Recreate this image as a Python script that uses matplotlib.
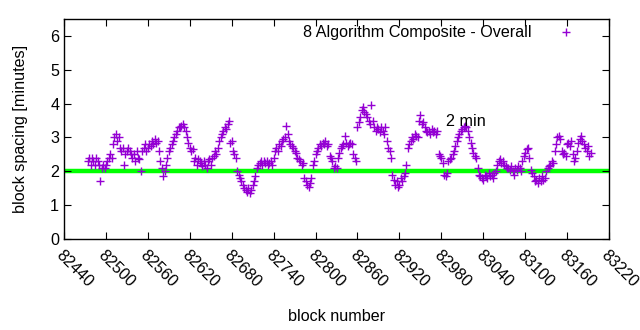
import numpy as np
import matplotlib
matplotlib.use("Agg")
import matplotlib.pyplot as plt

plt.rcParams['font.family'] = ['Liberation Sans', 'DejaVu Sans']

# block spacing in minutes, one value every 2 blocks starting at 82474
first_block = 82474
spacing = [
    2.3, 2.4, 2.2, 2.4, 2.3, 2.2, 2.4, 2.3, 2.2,
    1.7, 2.1, 2.2, 2.1, 2.2,
    2.3, 2.4, 2.5, 2.4,
    2.8, 3.0, 3.1, 2.9, 3.0,
    2.7, 2.6, 2.7, 2.2, 2.5,
    2.6, 2.7, 2.6, 2.5, 2.4,
    2.5, 2.3, 2.6, 2.4, 2.35,
    2.0, 2.6, 2.7, 2.8,
    2.6, 2.7, 2.8, 2.75, 2.9, 2.8, 2.95, 2.85, 2.9, 2.6,
    2.3, 2.1, 1.85, 2.0, 2.2, 2.4,
    2.6, 2.7, 2.8, 2.9, 3.0, 3.1, 3.2, 3.3,
    3.3, 3.35, 3.4, 3.3, 3.2, 3.0,
    2.85, 2.7, 2.6, 2.65,
    2.3, 2.4, 2.2, 2.35, 2.3, 2.25, 2.15, 2.3, 2.2, 2.1, 2.3, 2.35, 2.2, 2.4, 2.45,
    2.6, 2.5, 2.7, 2.9, 3.0,
    3.1, 3.2, 3.3, 3.25, 3.4, 3.5,
    2.85, 2.9, 2.6, 2.5,
    2.4, 2.0, 1.9, 1.8, 1.7,
    1.6, 1.5, 1.45, 1.4, 1.5, 1.35, 1.45, 1.6, 1.7,
    1.85, 2.1,
    2.2, 2.25, 2.3, 2.2, 2.3, 2.25, 2.3, 2.2, 2.25, 2.3, 2.2,
    2.4, 2.6,
    2.7, 2.6, 2.8, 2.75, 2.9,
    2.95, 3.0, 3.35, 3.1, 2.9,
    2.8, 2.75, 2.7, 2.6, 2.55,
    2.4, 2.35, 2.3, 2.2, 2.25,
    1.8, 1.7, 1.6, 1.55, 1.65, 1.8, 2.2,
    2.3, 2.5, 2.6,
    2.7, 2.8, 2.75, 2.85, 2.8, 2.9, 2.75, 2.8,
    2.45, 2.4, 2.3, 2.1, 2.15, 2.1,
    2.4, 2.55,
    2.7, 2.75, 2.8, 3.05, 2.85, 2.75, 2.8, 2.85, 2.8,
    2.5, 2.4, 2.3,
    3.3, 3.45, 3.6, 3.8, 3.9, 3.75, 3.7, 3.6, 3.5,
    3.4, 3.95, 3.5, 3.3,
    3.2, 3.3, 3.25, 3.15, 3.3, 3.2, 3.1, 3.3, 2.9,
    2.7, 2.6, 2.4,
    1.9, 1.75, 1.6, 1.7, 1.55, 1.6, 1.8, 1.7, 1.85, 1.95,
    2.2, 2.7, 2.8, 2.9,
    3.0, 2.95, 3.1, 3.05, 3.0,
    3.5, 3.65, 3.4, 3.45, 3.3,
    3.2, 3.15, 3.2, 3.1, 3.25, 3.15, 3.2, 3.1, 3.2,
    2.5, 2.45, 2.4,
    2.25, 1.9, 1.85, 1.95,
    2.3, 2.35, 2.4, 2.5,
    2.6, 2.75, 2.9, 3.0,
    3.1, 3.2, 3.25, 3.3, 3.35, 3.3, 3.2,
    3.0, 2.85, 2.7,
    2.55, 2.45, 2.4, 2.1,
    1.9, 1.85, 1.8, 1.75, 1.9, 1.85, 1.8, 1.95, 1.85, 1.9, 1.8, 1.95, 2.0,
    2.2, 2.3, 2.35, 2.25, 2.3, 2.2, 2.15, 2.1,
    2.1, 2.05, 2.15, 2.0, 1.9, 2.1, 2.05, 2.15, 2.1, 2.0, 2.3,
    2.45, 2.55, 2.65, 2.7, 2.4, 2.05,
    1.95, 1.85, 1.7, 1.75, 1.65, 1.8, 1.7, 1.85, 1.75, 1.8, 2.0,
    2.1, 2.15, 2.2, 2.3, 2.25,
    2.6, 2.8, 3.0, 3.05, 2.95,
    2.6, 2.5, 2.55, 2.45,
    2.8, 2.85, 2.75, 2.9,
    2.5, 2.3, 2.4, 2.6,
    2.85, 2.95, 3.05, 2.9, 2.8,
    2.7, 2.6, 2.75, 2.45, 2.55,
]
blocks = first_block + 2 * np.arange(len(spacing))

target = 2
x_ticks = list(range(82440, 83221, 60))
fs = 11.6

fig = plt.figure(figsize=(6.4, 3.3), dpi=100)
ax = fig.add_axes([0.1, 0.2758, 0.8516, 0.6666])

ax.axhline(target, xmin=0.006, xmax=0.997, color='#00ff00', lw=3.2, zorder=1)
ax.plot(blocks, spacing, '+', color='#9400d3', ms=6, mew=1.0, zorder=2,
        label='8 Algorithm Composite - Overall')

ax.text(82987, 3.48, '2 min', fontsize=fs, va='center', ha='left')

ax.set_xlim(82440, 83220)
ax.set_ylim(0, 6.5)
ax.set_xticks(x_ticks)
ax.set_xticklabels([str(t) for t in x_ticks], rotation=-45, ha='left', va='top',
                   rotation_mode='anchor', fontsize=fs)
ax.set_yticks(range(0, 7))
ax.tick_params(axis='y', labelsize=fs)
ax.tick_params(direction='in', top=True, right=True, length=5, width=0.8)
ax.tick_params(axis='x', pad=6)
for s in ax.spines.values():
    s.set_linewidth(1.0)

ax.set_xlabel('block number', fontsize=fs, labelpad=14)
ax.set_ylabel('block spacing [minutes]', fontsize=fs, labelpad=16)

ax.legend(loc='upper right', bbox_to_anchor=(0.9505, 0.972), frameon=False,
          fontsize=fs, markerfirst=False, handlelength=2.0, handletextpad=1.1,
          borderaxespad=0, borderpad=0)

fig.savefig('out.png', dpi=100)
